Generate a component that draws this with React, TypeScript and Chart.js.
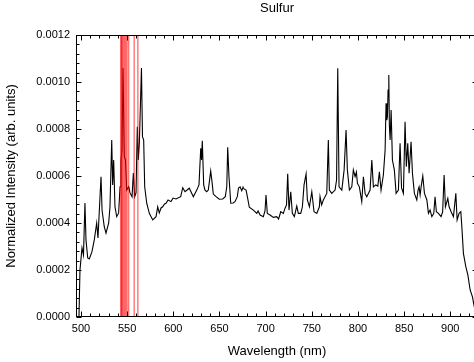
import { useEffect, useRef } from "react";
import { Chart, registerables } from "chart.js";

Chart.register(...registerables);

// Spectrum: wavelength (nm) and normalized intensity (arb. units)
const wavelength = [
  497.8, 498.9, 501.1, 502.7, 504.3, 505.4, 507.3, 509.0, 511.9, 514.4,
  517.0, 518.4, 520.6, 521.7, 522.8, 525.2, 527.1, 530.0, 531.4, 533.3,
  534.3, 535.4, 536.8, 538.7, 540.8, 542.3, 543.3, 544.4, 545.5, 546.9,
  548.2, 549.5, 551.7, 553.1, 555.3, 556.7, 558.2, 559.6, 561.0, 562.1,
  563.2, 565.5, 566.6, 567.9, 569.0, 571.2, 574.0, 577.7, 581.3, 583.1,
  584.8, 586.7, 588.5, 590.5, 592.1, 594.3, 597.5, 599.7, 602.9, 608.0,
  610.2, 612.7, 617.3, 621.7, 625.4, 627.8, 629.7, 630.6, 631.4, 632.9,
  634.3, 636.2, 637.9, 640.5, 641.9, 643.3, 646.3, 649.8, 653.5, 656.3,
  657.9, 658.9, 660.3, 662.2, 664.7, 666.8, 669.3, 670.6, 672.3, 674.1,
  675.5, 676.6, 678.8, 680.2, 682.3, 686.7, 690.4, 691.8, 694.0, 697.5,
  699.3, 700.4, 701.8, 704.8, 708.3, 712.0, 714.0, 716.4, 719.2, 721.0,
  722.6, 723.9, 725.3, 727.2, 728.9, 731.1, 733.7, 735.4, 738.0, 739.8,
  741.6, 743.8, 745.2, 747.4, 750.0, 752.4, 755.4, 758.2, 758.9, 760.6,
  762.5, 766.2, 767.9, 769.0, 771.6, 775.2, 776.8, 778.1, 779.5, 782.5,
  785.0, 787.1, 788.5, 790.7, 793.3, 795.0, 796.9, 798.3, 799.4, 801.5,
  804.1, 805.9, 807.7, 809.5, 811.3, 813.1, 815.0, 816.7, 819.3, 821.5,
  823.2, 825.0, 827.5, 829.4, 830.4, 831.2, 831.9, 832.6, 833.4, 834.0,
  834.8, 835.9, 837.3, 839.4, 841.3, 843.8, 845.6, 847.2, 849.2, 851.0,
  852.4, 853.9, 855.4, 857.5, 859.0, 861.1, 863.7, 865.1, 866.2, 867.3,
  868.4, 870.2, 872.0, 874.6, 876.3, 878.1, 880.0, 882.1, 883.5, 884.9,
  887.1, 890.0, 891.7, 893.3, 894.7, 897.3, 898.7, 900.9, 903.4, 906.0,
  907.4, 909.5, 911.4, 912.5, 914.2, 916.8, 919.0, 921.5, 924.0, 925.8,
  928.0,
];

const intensity = [
  0.0, 0.000200, 0.000294, 0.000264, 0.000485, 0.000328, 0.000251, 0.000247, 0.000278, 0.000328,
  0.000400, 0.000336, 0.000512, 0.000597, 0.000455, 0.000384, 0.000357, 0.000400, 0.000469, 0.000753,
  0.000562, 0.000668, 0.000469, 0.000427, 0.000443, 0.000554, 0.000668, 0.000711, 0.001060, 0.000682,
  0.000668, 0.000540, 0.000554, 0.000528, 0.000512, 0.000613, 0.000512, 0.000528, 0.000810, 0.000668,
  0.000740, 0.001060, 0.000767, 0.000753, 0.000554, 0.000484, 0.000441, 0.000413, 0.000427, 0.000469,
  0.000443, 0.000464, 0.000469, 0.000481, 0.000484, 0.000498, 0.000491, 0.000506, 0.000502, 0.000512,
  0.000550, 0.000533, 0.000548, 0.000512, 0.000540, 0.000562, 0.000718, 0.000668, 0.000750, 0.000562,
  0.000540, 0.000533, 0.000540, 0.000621, 0.000576, 0.000523, 0.000512, 0.000501, 0.000502, 0.000512,
  0.000554, 0.000722, 0.000597, 0.000484, 0.000485, 0.000491, 0.000512, 0.000549, 0.000554, 0.000537,
  0.000553, 0.000545, 0.000540, 0.000512, 0.000467, 0.000455, 0.000441, 0.000451, 0.000434, 0.000427,
  0.000451, 0.000519, 0.000441, 0.000434, 0.000424, 0.000427, 0.000417, 0.000448, 0.000441, 0.000463,
  0.000477, 0.000609, 0.000455, 0.000533, 0.000441, 0.000427, 0.000472, 0.000441, 0.000441, 0.000469,
  0.000562, 0.000609, 0.000498, 0.000469, 0.000533, 0.000448, 0.000441, 0.000469, 0.000512, 0.000477,
  0.000498, 0.000526, 0.000753, 0.000540, 0.000526, 0.000540, 0.000583, 0.001058, 0.000554, 0.000540,
  0.000626, 0.000796, 0.000626, 0.000540, 0.000554, 0.000626, 0.000597, 0.000617, 0.000569, 0.000554,
  0.000491, 0.000597, 0.000526, 0.000512, 0.000526, 0.000540, 0.000668, 0.000554, 0.000562, 0.000557,
  0.000618, 0.000540, 0.000604, 0.000711, 0.000909, 0.000838, 0.000852, 0.000966, 0.001030, 0.000817,
  0.000753, 0.000881, 0.000668, 0.000626, 0.000526, 0.000540, 0.000739, 0.000549, 0.000526, 0.000831,
  0.000640, 0.000739, 0.000612, 0.000746, 0.000612, 0.000526, 0.000498, 0.000540, 0.000554, 0.000519,
  0.000554, 0.000600, 0.000526, 0.000498, 0.000441, 0.000455, 0.000427, 0.000441, 0.000512, 0.000448,
  0.000441, 0.000427, 0.000447, 0.000604, 0.000469, 0.000505, 0.000469, 0.000448, 0.000427, 0.000526,
  0.000413, 0.000441, 0.000448, 0.000384, 0.000271, 0.000214, 0.000179, 0.000115, 0.000086, 0.000047,
  0.000009,
];

// Marked sulfur line positions (nm), drawn as red vertical lines
const sulfurLines = [543.1, 543.7, 544.3, 544.9, 546.2, 547.4, 548.6, 549.8, 551.6, 557.6, 561.6];

const xTickLabels = [500, 550, 600, 650, 700, 750, 800, 850, 900];
const yTickLabels = [0, 0.0002, 0.0004, 0.0006, 0.0008, 0.001, 0.0012];

const X_MIN = 494.6;
const X_MAX = 930;
const Y_MIN = 0;
const Y_MAX = 0.0012;

const FONT = "Arial, 'Liberation Sans', sans-serif";

const frameTicks = {
  id: "frameTicks",
  afterDatasetsDraw(chart: any) {
    const { ctx, chartArea: a, scales } = chart;
    const x = scales.x;
    const y = scales.y;
    ctx.save();
    ctx.strokeStyle = "#000";
    ctx.lineWidth = 1;
    const L = Math.round(a.left) + 0.5;
    const R = Math.round(a.right) - 0.5;
    const T = Math.round(a.top) + 0.5;
    const B = Math.round(a.bottom) - 0.5;
    ctx.strokeRect(L, T, R - L, B - T);
    ctx.beginPath();
    for (let v = 500; v <= X_MAX; v += 10) {
      const px = Math.round(x.getPixelForValue(v)) + 0.5;
      const len = v % 50 === 0 ? 5 : 3;
      ctx.moveTo(px, B);
      ctx.lineTo(px, B - len);
      ctx.moveTo(px, T);
      ctx.lineTo(px, T + len);
    }
    for (let i = 0; i <= 30; i++) {
      const v = i * 0.00004;
      const py = Math.round(y.getPixelForValue(v)) + 0.5;
      const len = i % 5 === 0 ? 5 : 3;
      ctx.moveTo(L, py);
      ctx.lineTo(L + len, py);
      ctx.moveTo(R, py);
      ctx.lineTo(R - len, py);
    }
    ctx.stroke();
    ctx.restore();
  },
};

export default function App() {
  const ref = useRef<HTMLCanvasElement | null>(null);

  useEffect(() => {
    if (!ref.current) return;
    const spectrum = wavelength.map((w, i) => ({ x: w, y: intensity[i] }));
    const lineSets = sulfurLines.map((w) => ({
      data: [
        { x: w, y: Y_MIN },
        { x: w, y: Y_MAX },
      ],
      borderColor: "rgba(255,0,0,0.55)",
      borderWidth: 1.4,
      pointRadius: 0,
      order: 0,
    }));
    const chart = new Chart(ref.current, {
      type: "line",
      data: {
        datasets: [
          ...lineSets,
          {
            data: spectrum,
            borderColor: "#000",
            borderWidth: 1.1,
            pointRadius: 0,
            tension: 0,
            order: 1,
          },
        ],
      },
      options: {
        animation: false,
        responsive: false,
        maintainAspectRatio: false,
        layout: { padding: { left: 0, right: 3, top: 0, bottom: 0 } },
        plugins: {
          legend: { display: false },
          tooltip: { enabled: false },
          title: {
            display: true,
            fullSize: false,
            text: "Sulfur",
            color: "#000",
            font: { family: FONT, size: 13, weight: "normal" },
            padding: { top: 1, bottom: 18.4 },
          },
        },
        scales: {
          x: {
            type: "linear",
            min: X_MIN,
            max: X_MAX,
            afterBuildTicks: (s: any) => {
              s.ticks = xTickLabels.map((v) => ({ value: v }));
            },
            afterFit: (s: any) => {
              s.height = 45;
            },
            grid: { display: false, drawTicks: false },
            border: { display: false },
            ticks: {
              color: "#000",
              font: { family: FONT, size: 11 },
              padding: 5,
              maxRotation: 0,
              autoSkip: false,
            },
            title: {
              display: true,
              text: "Wavelength (nm)",
              color: "#000",
              font: { family: FONT, size: 13 },
              padding: { top: 0, bottom: 3 },
            },
          },
          y: {
            type: "linear",
            min: Y_MIN,
            max: Y_MAX,
            afterBuildTicks: (s: any) => {
              s.ticks = yTickLabels.map((v) => ({ value: v }));
            },
            afterFit: (s: any) => {
              s.width = 76;
            },
            grid: { display: false, drawTicks: false },
            border: { display: false },
            ticks: {
              color: "#000",
              font: { family: FONT, size: 11 },
              padding: 6,
              autoSkip: false,
              callback: (v: any) => Number(v).toFixed(4),
            },
            title: {
              display: true,
              text: "Normalized Intensity (arb. units)",
              color: "#000",
              font: { family: FONT, size: 13 },
              padding: { top: 4, bottom: 0 },
            },
          },
        },
      },
      plugins: [frameTicks],
    });
    return () => chart.destroy();
  }, []);

  return (
    <div
      style={{
        position: "fixed",
        left: 0,
        top: 0,
        width: 474,
        height: 362,
        overflow: "hidden",
        background: "#fff",
      }}
    >
      <canvas ref={ref} width={481} height={362} style={{ width: 481, height: 362, display: "block" }} />
    </div>
  );
}
